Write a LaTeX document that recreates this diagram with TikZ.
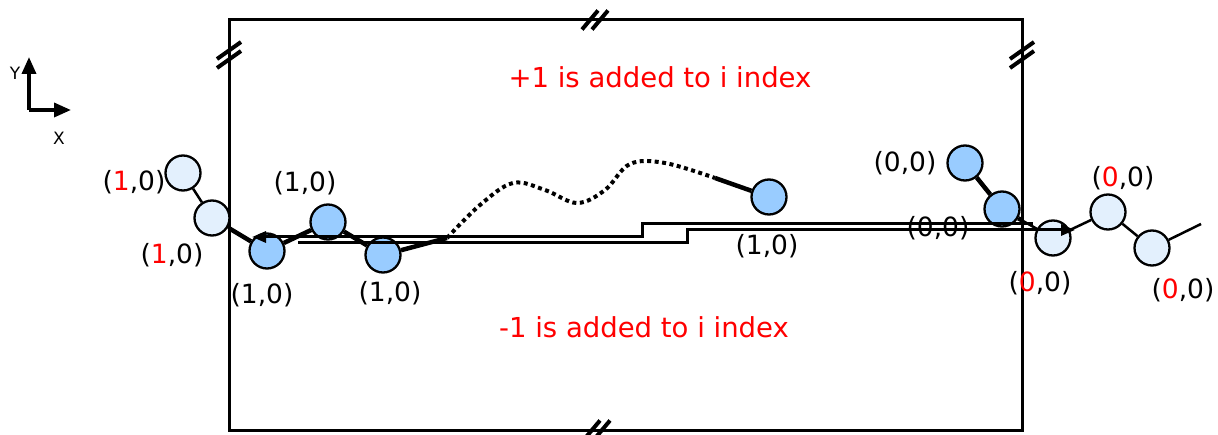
\documentclass[tikz,border=0pt]{standalone}
\usepackage{fontspec}
\setmainfont{DejaVu Sans}
\usetikzlibrary{arrows.meta,backgrounds}
\definecolor{lightbead}{HTML}{E3F0FD}
\definecolor{darkbead}{HTML}{99CCFF}
\definecolor{redtext}{HTML}{FF0000}
\begin{document}
\begin{tikzpicture}[x=1pt,y=-1pt,
  lb/.style={circle,draw,line width=2.3pt,fill=lightbead,minimum size=35pt,inner sep=0pt},
  db/.style={circle,draw,line width=2.3pt,fill=darkbead,minimum size=35pt,inner sep=0pt},
  thinlink/.style={line width=2.5pt},
  thicklink/.style={line width=4.5pt},
  lab/.style={font=\fontsize{26.5}{30}\selectfont,inner sep=0pt},
  note/.style={font=\fontsize{27.5}{32}\selectfont,text=redtext,inner sep=0pt},
  axlab/.style={font=\fontsize{17}{19}\selectfont,inner sep=0pt},
  boxline/.style={line width=3pt},
  brk/.style={line width=4pt},
  track/.style={line width=3pt,-{Triangle[length=14pt,width=11pt]}},
  dotpath/.style={line width=4pt,dash pattern=on 4pt off 3.5pt},
  axarrow/.style={line width=3.5pt,-{Triangle[length=17pt,width=14pt]}}]
\useasboundingbox (0,0) rectangle (1218,435);

% box
\draw[boxline] (229,20) rectangle (1022,430);
\foreach \cx/\cy in {229/55,1022/55}{
  \foreach \d in {-4.5,4.5}
    \draw[brk] ([shift={(-12,8.5+\d)}]\cx,\cy) -- ([shift={(12,-8.5+\d)}]\cx,\cy);
}
\foreach \cx/\cy in {595/20,597/430}{
  \foreach \d in {-5,5}
    \draw[brk] ([shift={(-8+\d,9.5)}]\cx,\cy) -- ([shift={(8+\d,-9.5)}]\cx,\cy);
}

% axes
\coordinate (o) at (29,110);
\coordinate (ytip) at (29,57);
\coordinate (xtip) at (71,110);
\draw[axarrow] (o) -- (ytip);
\draw[axarrow] (o) -- (xtip);
\node[axlab] (ylab) at (15,73) {Y};
\node[axlab] (xlab) at (59,138) {X};

% texts
\node[note] (plus) at (660,77) {+1 is added to i index};
\node[note] (minus) at (644,327) {-1 is added to i index};

% beads
\node[lb] (a1) at (183,173) {};
\node[lb] (a2) at (212,218) {};
\node[db] (c1) at (267,251) {};
\node[db] (c2) at (328,222) {};
\node[db] (c3) at (383,255) {};
\node[db] (c4) at (769,197) {};
\node[db] (d1) at (965,163) {};
\node[db] (d2) at (1002,209) {};
\node[lb] (b3) at (1053,238) {};
\node[lb] (b4) at (1108,212) {};
\node[lb] (b5) at (1152,248) {};

\coordinate (k1) at (229,228.2);
\coordinate (k2) at (1022,220.4);
\coordinate (s1) at (447,238);
\coordinate (s2) at (715,178);
\coordinate (e) at (1201,224);

\begin{pgfonlayer}{background}
\draw[thinlink] (a1) -- (a2);
\draw[thinlink] (a2) -- (k1);
\draw[thicklink] (k1) -- (c1);
\draw[thicklink] (c1) -- (c2);
\draw[thicklink] (c2) -- (c3);
\draw[thicklink] (c3) -- (s1);
\draw[thicklink] (s2) -- (c4);
\draw[thicklink] (d1) -- (d2);
\draw[thicklink] (d2) -- (k2);
\draw[thinlink] (k2) -- (b3);
\draw[thinlink] (b3) -- (b4);
\draw[thinlink] (b4) -- (b5);
\draw[thinlink] (b5) -- (e);
\end{pgfonlayer}

\draw[dotpath] plot[smooth,tension=0.6] coordinates {(447,238) (480,205) (513,183) (545,190) (577,203) (605,190) (630,164) (665,163) (715,178)};

% labels
\node[lab] (l1) at (134,182) {(\textcolor{redtext}{1},0)};
\node[lab] (l2) at (172,255) {(\textcolor{redtext}{1},0)};
\node[lab] (l3) at (305,183) {(1,0)};
\node[lab] (l4) at (262,295) {(1,0)};
\node[lab] (l5) at (390,293) {(1,0)};
\node[lab] (l6) at (767,246) {(1,0)};
\node[lab] (r1) at (905,163) {(0,0)};
\node[lab] (r2) at (938,228) {(0,0)};
\node[lab] (r3) at (1040,283) {(\textcolor{redtext}{0},0)};
\node[lab] (r4) at (1123,178) {(\textcolor{redtext}{0},0)};
\node[lab] (r5) at (1183,290) {(\textcolor{redtext}{0},0)};

% boundary-crossing tracks
\coordinate (u0) at (1033,224);
\coordinate (u1) at (642,224);
\coordinate (u2) at (642,237);
\coordinate (u3) at (252,237);
\coordinate (w0) at (298,243);
\coordinate (w1) at (687,243);
\coordinate (w2) at (687,230);
\coordinate (w3) at (1075,230);
\draw[track] (u0) -- (u1) -- (u2) -- (u3);
\draw[track] (w0) -- (w1) -- (w2) -- (w3);
\end{tikzpicture}
\end{document}
